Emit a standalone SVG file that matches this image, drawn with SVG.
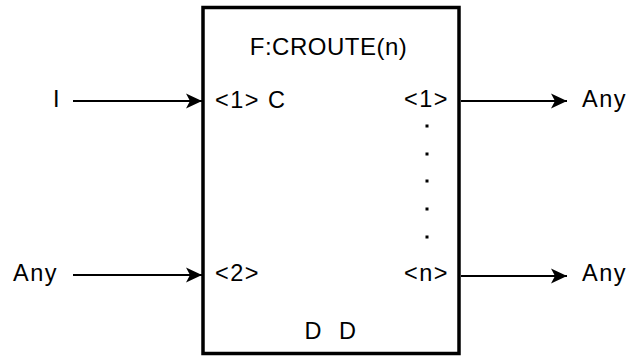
<svg xmlns="http://www.w3.org/2000/svg" width="629" height="356" viewBox="0 0 629 356">
<style>
text{font-family:"Liberation Sans",Arial,sans-serif;font-size:23.5px;fill:#000;letter-spacing:1.5px}
.title{font-size:24px;letter-spacing:0.5px}
.edge{stroke:#000;stroke-width:2;fill:none;marker-end:url(#ah)}
.dot{fill:#000}
</style>
<defs>
<marker id="ah" markerUnits="userSpaceOnUse" markerWidth="18" markerHeight="18" viewBox="0 0 18 18" refX="17" refY="9" orient="auto">
<path d="M1,1.5 L17,9 L1,16.5 L5,9 z" fill="#000"/>
</marker>
</defs>
<g id="block">
<rect x="203" y="7.5" width="256" height="346" fill="#fff" stroke="#000" stroke-width="3.5"/>
<text class="title" x="328.5" y="55" text-anchor="middle">F:CROUTE(n)</text>
<text x="215" y="108">&lt;1&gt; C</text>
<text x="449" y="107" text-anchor="end">&lt;1&gt;</text>
<text x="215" y="281">&lt;2&gt;</text>
<text x="449" y="281" text-anchor="end">&lt;n&gt;</text>
<text x="331" y="339" text-anchor="middle" xml:space="preserve">D  D</text>
<rect class="dot" x="425.5" y="124.5" width="3" height="3"/>
<rect class="dot" x="425.5" y="152.5" width="3" height="3"/>
<rect class="dot" x="425.5" y="179.5" width="3" height="3"/>
<rect class="dot" x="425.5" y="207.5" width="3" height="3"/>
<rect class="dot" x="425.5" y="235.5" width="3" height="3"/>
</g>
<g id="in1"><text x="53" y="107">I</text></g>
<g id="in2"><text x="13" y="281">Any</text></g>
<g id="out1"><text x="582" y="107">Any</text></g>
<g id="outn"><text x="582" y="281">Any</text></g>
<g id="connectors">
<line class="edge" x1="73" y1="101" x2="202" y2="101"/>
<line class="edge" x1="73" y1="275" x2="202" y2="275"/>
<line class="edge" x1="461" y1="101" x2="567" y2="101"/>
<line class="edge" x1="461" y1="276" x2="567" y2="276"/>
</g>
</svg>
